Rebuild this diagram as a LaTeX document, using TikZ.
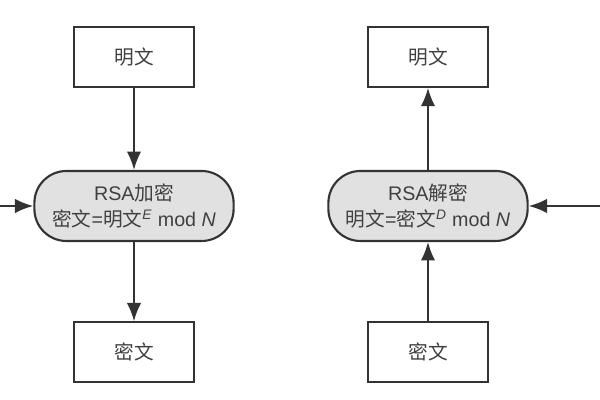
\documentclass[tikz,border=0pt]{standalone}
\usepackage{fontspec}
\setmainfont{Liberation Sans}
\newfontfamily\cjk{Noto Sans CJK SC}
\usepackage{tikz}
\usetikzlibrary{arrows.meta,positioning}
\definecolor{LineGray}{HTML}{333333}
\definecolor{TextGray}{HTML}{404040}
\definecolor{BoxFill}{HTML}{E1E1E1}

\begin{document}
\begin{tikzpicture}[
    tbox/.style={rectangle,draw=LineGray,line width=1.5pt,fill=white,minimum width=2.98cm,minimum height=1.5cm,font=\fontsize{14}{16}\selectfont\cjk,text=TextGray},
    rsabox/.style={rectangle,rounded corners=8mm,draw=LineGray,line width=1.5pt,fill=BoxFill,minimum width=4.98cm,minimum height=1.75cm,align=center,font=\fontsize{14}{19}\selectfont,text=TextGray},
    conn/.style={line width=1.4pt,LineGray,-{Latex[length=4.6mm,width=3.6mm]}},
  ]
  \useasboundingbox (0,0) rectangle (15,10);
  % Encryption side
  \node[tbox] (ptA) at (3.35,8.58) {明文};
  \node[rsabox] (enc) at (3.35,4.85) {RSA{\cjk 加密}\\{\cjk 密文}={\cjk 明文}\textsuperscript{\textit{E}} mod \textit{N}};
  \node[tbox] (ctA) at (3.35,1.19) {密文};
  \coordinate (encin) at (0,4.85);
  % Decryption side
  \node[tbox] (ptB) at (10.7,8.58) {明文};
  \node[rsabox] (dec) at (10.7,4.85) {RSA{\cjk 解密}\\{\cjk 明文}={\cjk 密文}\textsuperscript{\textit{D}} mod \textit{N}};
  \node[tbox] (ctB) at (10.7,1.19) {密文};
  \coordinate (decin) at (15,4.85);
  % Arrows
  \draw[conn] (ptA) -- (enc);
  \draw[conn] (enc) -- (ctA);
  \draw[conn] (encin) -- (enc);
  \draw[conn] (ctB) -- (dec);
  \draw[conn] (dec) -- (ptB);
  \draw[conn] (decin) -- (dec);
\end{tikzpicture}
\end{document}
